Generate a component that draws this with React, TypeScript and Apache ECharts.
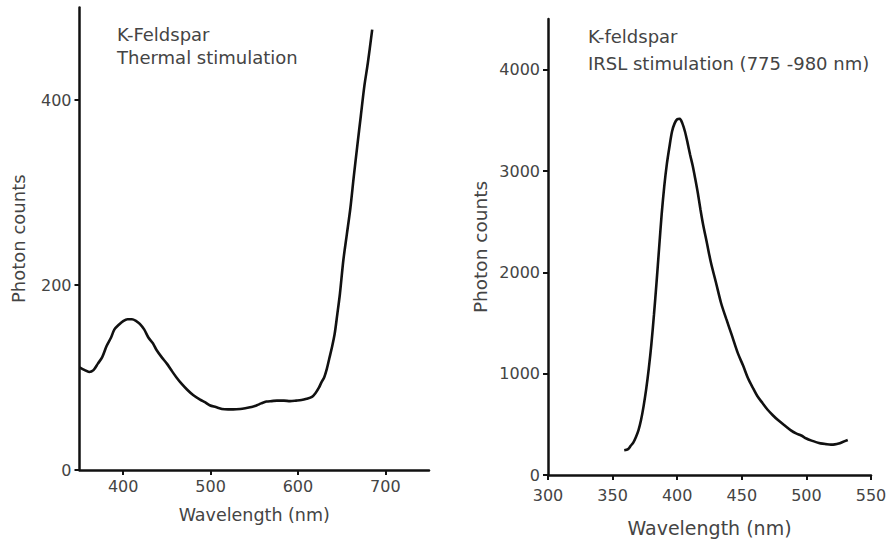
import React, { useEffect, useRef } from 'react';
import * as echarts from 'echarts';

// Left panel: K-Feldspar, thermal stimulation
const thermalWavelength = [350, 356, 361, 366, 371, 376, 381, 386, 390, 395, 400, 405, 410, 415, 419, 424, 429, 434, 438, 444, 450, 455, 461, 467, 473, 480, 488, 494, 499, 506, 513, 520, 526, 534, 541, 547, 553, 558, 564, 570, 576, 584, 591, 598, 604, 610, 616, 620, 624, 627, 630, 633, 636, 639, 642, 645, 648, 652, 656, 660, 664, 668, 672, 676, 680, 685];
const thermalCounts = [111, 108, 106, 108, 115, 122, 134, 143, 152, 157, 161, 163, 163, 161, 158, 152, 143, 137, 130, 122, 115, 108, 100, 93, 87, 81, 76, 73, 70, 68, 66, 65.5, 65.5, 66, 67, 68, 70, 72, 74, 74.5, 75, 75, 74.5, 75, 75.6, 77, 79, 83, 89, 95, 100, 109, 121, 133, 147, 168, 190, 227, 255, 283, 318, 351, 383, 415, 440, 476];

// Right panel: K-feldspar, IRSL stimulation
const irslWavelength = [359, 362, 364, 366, 368, 370, 372, 374, 376, 378, 380, 382, 384, 386, 388, 390, 392, 394, 396, 398, 400, 402, 404, 406, 408, 410, 412, 414, 416, 418, 420, 423, 426, 430, 434, 438, 442, 447, 451, 455, 459, 462, 466, 470, 474, 478, 483, 488, 492, 496, 500, 504, 508, 511, 515, 519, 522, 525, 528, 532];
const irslCounts = [244, 255, 288, 320, 373, 440, 542, 680, 847, 1050, 1288, 1580, 1898, 2240, 2576, 2850, 3070, 3240, 3390, 3470, 3510, 3515, 3470, 3390, 3280, 3160, 3051, 2920, 2780, 2620, 2475, 2290, 2102, 1900, 1695, 1540, 1390, 1200, 1080, 949, 850, 780, 710, 644, 590, 542, 490, 440, 410, 390, 360, 339, 322, 312, 305, 300, 302, 310, 325, 346];

const thermalXTicks = [400, 500, 600, 700];
const thermalYTicks = [0, 200, 400];
const irslXTicks = [300, 350, 400, 450, 500, 550];
const irslYTicks = [0, 1000, 2000, 3000, 4000];

const FONT = 'DejaVu Sans';
const TEXT = '#444';

function zip(xs: number[], ys: number[]) {
  return xs.map((x, i) => [x, ys[i]]);
}

export default function App() {
  const ref = useRef<HTMLDivElement>(null);
  useEffect(() => {
    if (!ref.current) return;
    const chart = echarts.init(ref.current, null, { renderer: 'svg' });
    const axisLine = { show: true, lineStyle: { color: '#111', width: 2.5 } };
    const tick = (vals: number[]) => ({ show: true, length: 5, lineStyle: { color: '#111', width: 2 }, customValues: vals });
    const label = (margin: number, vals: number[]) => ({
      color: TEXT, fontSize: 16, fontFamily: FONT, margin, customValues: vals,
      formatter: (v: number) => String(v),
    });
    const nameStyle = (size: number) => ({ color: TEXT, fontSize: size, fontFamily: FONT });
    chart.setOption({
      animation: false,
      backgroundColor: '#fff',
      grid: [
        { left: 79.5, right: 461, top: 7.5, bottom: 73 },
        { left: 548, right: 19, top: 19, bottom: 68 },
      ],
      xAxis: [
        {
          type: 'value', gridIndex: 0, min: 350, max: 750,
          axisLine, splitLine: { show: false },
          axisTick: tick(thermalXTicks),
          axisLabel: label(8, thermalXTicks),
          name: 'Wavelength (nm)', nameLocation: 'middle', nameGap: 36,
          nameTextStyle: nameStyle(17.5),
        },
        {
          type: 'value', gridIndex: 1, min: 300, max: 550,
          axisLine, splitLine: { show: false },
          axisTick: tick(irslXTicks),
          axisLabel: label(12, irslXTicks),
          name: 'Wavelength (nm)', nameLocation: 'middle', nameGap: 43,
          nameTextStyle: nameStyle(19),
        },
      ],
      yAxis: [
        {
          type: 'value', gridIndex: 0, min: 0, max: 500,
          axisLine, splitLine: { show: false },
          axisTick: tick(thermalYTicks),
          axisLabel: label(8, thermalYTicks),
          name: 'Photon counts', nameLocation: 'middle', nameGap: 52, nameRotate: 90,
          nameTextStyle: nameStyle(18),
        },
        {
          type: 'value', gridIndex: 1, min: 0, max: 4500,
          axisLine, splitLine: { show: false },
          axisTick: tick(irslYTicks),
          axisLabel: label(8, irslYTicks),
          name: 'Photon counts', nameLocation: 'middle', nameGap: 58, nameRotate: 90,
          nameTextStyle: nameStyle(18.5),
        },
      ],
      series: [
        {
          type: 'line', xAxisIndex: 0, yAxisIndex: 0, data: zip(thermalWavelength, thermalCounts),
          showSymbol: false, smooth: 0.3, lineStyle: { color: '#111', width: 2.6 },
        },
        {
          type: 'line', xAxisIndex: 1, yAxisIndex: 1, data: zip(irslWavelength, irslCounts),
          showSymbol: false, smooth: 0.3, lineStyle: { color: '#111', width: 2.6 },
        },
      ],
      graphic: [
        { type: 'text', left: 117, top: 25, style: { text: 'K-Feldspar', fill: TEXT, fontSize: 18, fontFamily: FONT } },
        { type: 'text', left: 117, top: 48, style: { text: 'Thermal stimulation', fill: TEXT, fontSize: 18, fontFamily: FONT } },
        { type: 'text', left: 588, top: 27, style: { text: 'K-feldspar', fill: TEXT, fontSize: 18, fontFamily: FONT } },
        { type: 'text', left: 588, top: 54, style: { text: 'IRSL stimulation (775 -980 nm)', fill: TEXT, fontSize: 18, fontFamily: FONT } },
      ],
    });
    return () => chart.dispose();
  }, []);
  return <div ref={ref} style={{ position: 'fixed', left: 0, top: 0, width: 890, height: 543 }} />;
}
